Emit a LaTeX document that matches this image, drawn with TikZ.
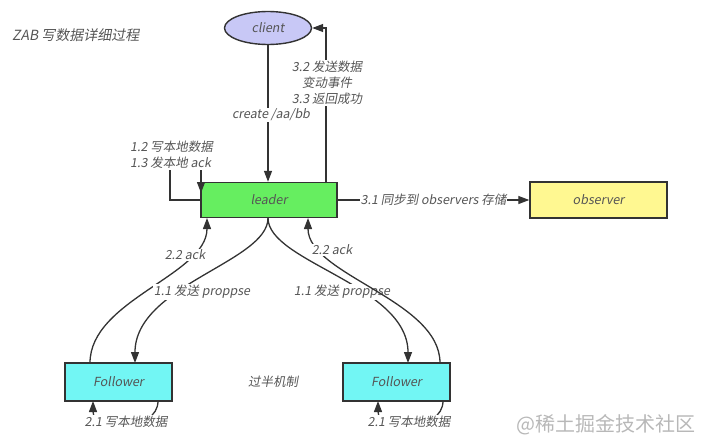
\documentclass[tikz,border=0pt]{standalone}
\usepackage{fontspec}
\usetikzlibrary{arrows.meta,shapes.geometric}
\newfontfamily\zh[FakeSlant=0.18]{Noto Sans CJK SC}
\newfontfamily\zhup{Noto Sans CJK SC}
\definecolor{lineC}{HTML}{333333}
\definecolor{txtC}{HTML}{555555}
\definecolor{clientC}{HTML}{C8C8F6}
\definecolor{leaderC}{HTML}{66EE60}
\definecolor{obsC}{HTML}{FFF891}
\definecolor{folC}{HTML}{72F6F4}
\tikzset{
  lbl/.style={font=\zh\fontsize{12.5}{16}\selectfont, text=txtC, inner sep=1pt},
  wlbl/.style={lbl, fill=white},
  boxst/.style={draw=lineC, line width=1.4pt, rectangle, font=\zh\fontsize{12.5}{15}\selectfont, text=txtC},
  conn/.style={draw=lineC, line width=1.3pt},
  arr/.style={conn, -{Triangle[length=11pt,width=8pt]}},
}
\begin{document}
\begin{tikzpicture}[x=1pt,y=-1pt]
\useasboundingbox (0,0) rectangle (701,436);
\node[lbl, anchor=west, font=\zh\fontsize{14}{16}\selectfont] (title) at (11,35) {ZAB 写数据详细过程};
\node[boxst, ellipse, fill=clientC, minimum width=87pt, minimum height=33pt, inner sep=0pt] (client) at (268,28) {client};
\node[boxst, fill=leaderC, minimum width=136pt, minimum height=35pt] (leader) at (269,200) {leader};
\node[boxst, fill=obsC, minimum width=137pt, minimum height=36pt] (observer) at (598.5,200) {observer};
\node[boxst, fill=folC, minimum width=107pt, minimum height=38pt] (f1) at (118.5,382) {Follower};
\node[boxst, fill=folC, minimum width=107pt, minimum height=38pt] (f2) at (396.5,382) {Follower};
\node[lbl] (half) at (273,382) {过半机制};
\node[font=\zhup\fontsize{20}{22}\selectfont, text=black!28] (wm) at (606,425) {@稀土掘金技术社区};

% client -> leader
\draw[arr] (client.south) -- (client.south |- leader.north);
\node[wlbl] (create) at (271,115) {create /aa/bb};
% leader -> client
\coordinate (rt) at (326,183);
\draw[arr] (rt) |- (client.east);
\node[wlbl, align=center] (l32) at (327,83) {3.2 发送数据\\变动事件\\3.3 返回成功};
% leader self loop
\coordinate (sl1) at (170,200);
\coordinate (sl2) at (170,155);
\coordinate (sl3) at (201,155);
\coordinate (sl4) at (201,193);
\draw[arr] (leader.west) -- (sl1) -- (sl2) -- (sl3) -- (sl4);
\node[wlbl, align=left] (l12) at (171.5,155) {1.2 写本地数据\\1.3 发本地 ack};
% leader -> observer
\draw[arr] (leader.east) -- node[wlbl] (l31) {3.1 同步到 observers 存储} (observer.west);

% curves
\coordinate (la0) at (90,363);
\coordinate (la1) at (207,218);
\draw[arr] (la0) .. controls (90,300) and (207,275) .. (la1);
\node[wlbl] (l22a) at (185,255) {2.2 ack};
\coordinate (lp0) at (268,218);
\coordinate (lp1) at (135,363);
\draw[arr] (lp0) .. controls (268,262) and (135,285) .. (lp1);
\node[wlbl] (l11a) at (202,292) {1.1 发送 proppse};
\coordinate (rp1) at (408,363);
\draw[arr] (lp0) .. controls (268,262) and (408,285) .. (rp1);
\node[wlbl] (l11b) at (342,292) {1.1 发送 proppse};
\coordinate (ra0) at (440,363);
\coordinate (ra1) at (308,218);
\draw[arr] (ra0) .. controls (440,300) and (308,275) .. (ra1);
\node[wlbl] (l22b) at (332,250) {2.2 ack};

% follower self loops
\coordinate (fa0) at (158,401);
\coordinate (fa1) at (93,401);
\draw[arr] (fa0) .. controls (158,432) and (93,432) .. (fa1);
\node[wlbl] (l21a) at (126,422) {2.1 写本地数据};
\coordinate (fb0) at (443,401);
\coordinate (fb1) at (378,401);
\draw[arr] (fb0) .. controls (443,432) and (378,432) .. (fb1);
\node[wlbl] (l21b) at (409,422) {2.1 写本地数据};
\end{tikzpicture}
\end{document}
